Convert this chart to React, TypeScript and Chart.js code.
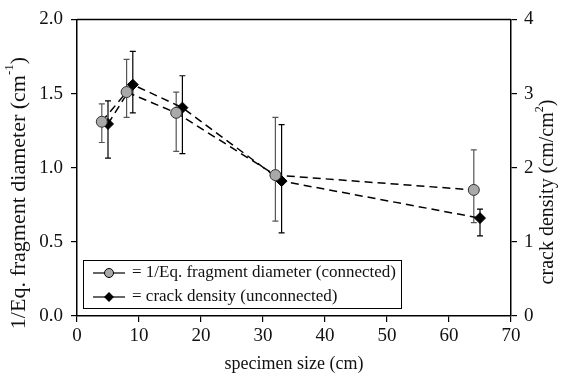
import { useEffect, useRef } from "react";
import { Chart, registerables } from "chart.js";

Chart.register(...registerables);

// Fragment size measurements (left axis)
const fragSizes = [4, 8, 16, 32, 64];
const fragValues = [1.31, 1.51, 1.37, 0.95, 0.85];
const fragLow = [1.17, 1.34, 1.11, 0.64, 0.63];
const fragHigh = [1.43, 1.73, 1.51, 1.34, 1.12];

// Crack density measurements (right axis)
const crackSizes = [5, 9, 17, 33, 65];
const crackValues = [2.59, 3.12, 2.81, 1.82, 1.32];
const crackLow = [2.13, 2.74, 2.19, 1.12, 1.08];
const crackHigh = [2.9, 3.57, 3.24, 2.58, 1.44];

const legendLabels = [
  "= 1/Eq. fragment diameter (connected)",
  "= crack density (unconnected)",
];

const FONT = '"Liberation Serif", "Times New Roman", serif';
const GRAY = "#a9a9a9";

const errorBarPlugin = {
  id: "errorBars",
  beforeDatasetsDraw(chart: any) {
    const ctx = chart.ctx;
    const x = chart.scales.x;
    chart.data.datasets.forEach((ds: any) => {
      const y = chart.scales[ds.yAxisID];
      const low = ds.errLow as number[];
      const high = ds.errHigh as number[];
      ctx.save();
      ctx.strokeStyle = ds.errColor;
      ctx.lineWidth = 1.2;
      ds.data.forEach((p: any, j: number) => {
        const px = x.getPixelForValue(p.x);
        const y1 = y.getPixelForValue(low[j]);
        const y2 = y.getPixelForValue(high[j]);
        ctx.beginPath();
        ctx.moveTo(px, y1);
        ctx.lineTo(px, y2);
        ctx.moveTo(px - 3, y1);
        ctx.lineTo(px + 3, y1);
        ctx.moveTo(px - 3, y2);
        ctx.lineTo(px + 3, y2);
        ctx.stroke();
      });
      ctx.restore();
    });
  },
};

const framePlugin = {
  id: "frame",
  afterDraw(chart: any) {
    const ctx = chart.ctx;
    const a = chart.chartArea;
    ctx.save();
    ctx.strokeStyle = "#000";
    ctx.lineWidth = 1.5;
    ctx.beginPath();
    ctx.moveTo(a.left, a.top);
    ctx.lineTo(a.right, a.top);
    ctx.stroke();

    // legend box
    const bx = 83, by = 260, bw = 318, bh = 48;
    ctx.fillStyle = "#fff";
    ctx.fillRect(bx, by, bw, bh);
    ctx.lineWidth = 1;
    ctx.strokeRect(bx + 0.5, by + 0.5, bw, bh);
    const rows = [273, 297];
    rows.forEach((ry, i) => {
      ctx.strokeStyle = "#000";
      ctx.lineWidth = 1.2;
      ctx.beginPath();
      ctx.moveTo(93, ry);
      ctx.lineTo(125, ry);
      ctx.stroke();
      if (i === 0) {
        ctx.beginPath();
        ctx.arc(109, ry, 4.5, 0, Math.PI * 2);
        ctx.fillStyle = GRAY;
        ctx.fill();
        ctx.lineWidth = 1;
        ctx.stroke();
      } else {
        ctx.beginPath();
        ctx.moveTo(109, ry - 5);
        ctx.lineTo(114, ry);
        ctx.lineTo(109, ry + 5);
        ctx.lineTo(104, ry);
        ctx.closePath();
        ctx.fillStyle = "#000";
        ctx.fill();
      }
      ctx.fillStyle = "#111";
      ctx.font = `17px ${FONT}`;
      ctx.textAlign = "left";
      ctx.textBaseline = "middle";
      ctx.fillText(legendLabels[i], 132, ry);
    });

    // axis titles
    ctx.fillStyle = "#111";
    ctx.font = `18px ${FONT}`;
    ctx.textAlign = "center";
    ctx.textBaseline = "middle";
    ctx.fillText("specimen size (cm)", (a.left + a.right) / 2, 364);

    const drawSupTitle = (cx: number, cy: number, base: string, sup: string, tail: string, size: number) => {
      ctx.save();
      ctx.translate(cx, cy);
      ctx.rotate(-Math.PI / 2);
      ctx.font = `${size}px ${FONT}`;
      const supFont = `${Math.round(size * 0.6)}px ${FONT}`;
      const w1 = ctx.measureText(base).width;
      const w3 = ctx.measureText(tail).width;
      ctx.font = supFont;
      const w2 = ctx.measureText(sup).width;
      const total = w1 + w2 + w3;
      let sx = -total / 2;
      ctx.textAlign = "left";
      ctx.textBaseline = "middle";
      ctx.font = `${size}px ${FONT}`;
      ctx.fillText(base, sx, 0);
      sx += w1;
      ctx.font = supFont;
      ctx.fillText(sup, sx, -size * 0.42);
      sx += w2;
      ctx.font = `${size}px ${FONT}`;
      ctx.fillText(tail, sx, 0);
      ctx.restore();
    };
    drawSupTitle(19, 193, "1/Eq. fragment diameter (cm", "-1", ")", 22);
    drawSupTitle(548, 192, "crack density (cm/cm", "2", ")", 20);
    ctx.restore();
  },
};

export default function App() {
  const ref = useRef<HTMLCanvasElement | null>(null);

  useEffect(() => {
    document.body.style.margin = "0";
    const canvas = ref.current;
    if (!canvas) return;
    const tickFont = { family: FONT, size: 19 };
    const chart = new Chart(canvas, {
      type: "line",
      data: {
        datasets: [
          {
            label: "fragment",
            data: fragSizes.map((s, i) => ({ x: s, y: fragValues[i] })),
            yAxisID: "y",
            borderColor: "#000",
            borderWidth: 1.5,
            borderDash: [8, 5],
            pointStyle: "circle",
            pointRadius: 5.5,
            pointBackgroundColor: GRAY,
            pointBorderColor: "#333",
            pointBorderWidth: 1,
            tension: 0,
            fill: false,
            errLow: fragLow,
            errHigh: fragHigh,
            errColor: "#555",
          } as any,
          {
            label: "crack",
            data: crackSizes.map((s, i) => ({ x: s, y: crackValues[i] })),
            yAxisID: "y2",
            borderColor: "#000",
            borderWidth: 1.5,
            borderDash: [8, 5],
            pointStyle: "rectRot",
            pointRadius: 5.5,
            pointBackgroundColor: "#000",
            pointBorderColor: "#000",
            pointBorderWidth: 1,
            tension: 0,
            fill: false,
            errLow: crackLow,
            errHigh: crackHigh,
            errColor: "#000",
          } as any,
        ],
      },
      options: {
        animation: false,
        responsive: true,
        maintainAspectRatio: false,
        layout: { padding: { top: 15, left: 0, right: 0, bottom: 0 } },
        plugins: { legend: { display: false }, tooltip: { enabled: false } },
        scales: {
          x: {
            type: "linear",
            min: 0,
            max: 70,
            ticks: { stepSize: 10, font: tickFont, color: "#111", padding: 3 },
            grid: { drawOnChartArea: false, tickLength: 6, color: "#000", lineWidth: 1.2 },
            border: { color: "#000", width: 1.5 },
            afterFit: (s: any) => { s.height = 62; },
          },
          y: {
            position: "left",
            min: 0,
            max: 2,
            ticks: {
              stepSize: 0.5,
              font: tickFont,
              color: "#111",
              padding: 8,
              callback: (v: any) => Number(v).toFixed(1),
            },
            grid: { drawOnChartArea: false, tickLength: 6, color: "#000", lineWidth: 1.2 },
            border: { color: "#000", width: 1.5 },
            afterFit: (s: any) => { s.width = 77; },
          },
          y2: {
            position: "right",
            min: 0,
            max: 4,
            ticks: { stepSize: 1, font: tickFont, color: "#111", padding: 7 },
            grid: { drawOnChartArea: false, tickLength: 6, color: "#000", lineWidth: 1.2 },
            border: { color: "#000", width: 1.5 },
            afterFit: (s: any) => { s.width = 53; },
          },
        },
      } as any,
      plugins: [errorBarPlugin, framePlugin],
    });
    return () => chart.destroy();
  }, []);

  return (
    <div style={{ position: "fixed", left: 0, top: 0, width: 564, height: 378 }}>
      <canvas ref={ref} />
    </div>
  );
}
